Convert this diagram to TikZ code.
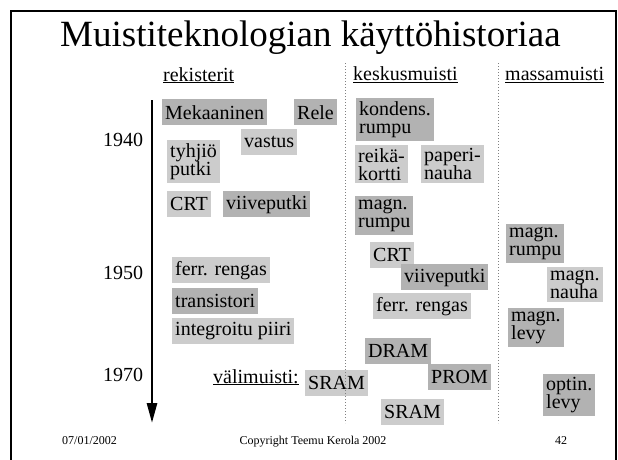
\documentclass[tikz,border=0pt]{standalone}
\usepackage{fontspec}
\setmainfont{Liberation Serif}
\usetikzlibrary{arrows.meta}

\begin{document}
\begin{tikzpicture}[x=1pt,y=-1pt,
  membox/.style={anchor=north west, inner xsep=3pt, inner ysep=3pt, minimum height=26pt, align=left, font=\fontsize{20}{18.2}\selectfont},
  darkbox/.style={membox, fill=black!30},
  lightbox/.style={membox, fill=black!20},
  plain/.style={inner sep=0pt, font=\fontsize{20}{24}\selectfont},
  footer/.style={inner sep=0pt, font=\fontsize{12}{14}\selectfont},
  divider/.style={dotted, gray, line width=1pt},
  timeline/.style={line width=2.7pt, -{Triangle[length=20pt,width=10pt]}}]
\useasboundingbox (0,0) rectangle (618,459);
\draw[line width=2.5pt] (11,470) -- (11,11) -- (616,11) -- (616,470);
\node[anchor=base west, inner sep=0pt, font=\fontsize{37}{40}\selectfont] (title) at (60,46.5) {Muistiteknologian käyttöhistoriaa};
% sarakkeet
\node[plain, anchor=base west] (rekisterit) at (163,81) {\underline{rekisterit}};
\node[plain, anchor=base west] (keskusmuisti) at (353,80.5) {\underline{keskusmuisti}};
\node[plain, anchor=base west] (massamuisti) at (505,80.5) {\underline{massamuisti}};
% aika-akseli
\coordinate (t0) at (152,100);
\coordinate (t1) at (152,423);
\draw[timeline] (t0) -- (t1);
\node[plain] (y1940) at (123,140) {1940};
\node[plain] (y1950) at (123,273) {1950};
\node[plain] (y1970) at (123,375) {1970};
% rekisterit
\node[darkbox] (mekaaninen) at (162,99) {Mekaaninen};
\node[darkbox] (rele) at (294,99) {Rele};
\node[lightbox] (vastus) at (241,129) {vastus};
\node[lightbox] (tyhjio) at (167,140) {tyhjiö\\putki};
\node[lightbox] (crtR) at (167,191) {CRT};
\node[darkbox] (viiveR) at (223,191) {viiveputki};
\node[lightbox] (ferrR) at (172,257) {ferr. rengas};
\node[darkbox] (transistori) at (172,288) {transistori};
\node[lightbox] (piiri) at (172,318) {integroitu piiri};
\node[plain, anchor=base west] (valimuisti) at (213,383) {\underline{välimuisti:}};
\node[lightbox] (sramV) at (305,370) {SRAM};
% keskusmuisti
\node[darkbox] (kondens) at (356,98) {kondens.\\rumpu};
\node[lightbox] (reika) at (355,145) {reikä-\\kortti};
\node[lightbox] (paperi) at (421,145) {paperi-\\nauha};
\node[darkbox] (rumpuK) at (355,196) {magn.\\rumpu};
\node[lightbox] (crtK) at (370,242) {CRT};
\node[darkbox] (viiveK) at (401,264) {viiveputki};
\node[lightbox] (ferrK) at (373,293) {ferr. rengas};
\node[darkbox] (dram) at (365,338) {DRAM};
\node[darkbox] (prom) at (428,364) {PROM};
\node[lightbox] (sramK) at (381,399) {SRAM};
% massamuisti
\node[darkbox] (rumpuM) at (506,224) {magn.\\rumpu};
\node[lightbox] (nauha) at (547,267) {magn.\\nauha};
\node[darkbox] (levy) at (508,308) {magn.\\levy};
\node[darkbox] (optin) at (543,374) {optin.\\levy};
% erottimet
\coordinate (k0) at (345,63);
\coordinate (k1) at (345,423);
\coordinate (m0) at (498,63);
\coordinate (m1) at (498,423);
\draw[divider] (k0) -- (k1);
\draw[divider] (m0) -- (m1);
% alatunniste
\node[footer, anchor=base west] (date) at (62,444) {07/01/2002};
\node[footer, anchor=base] (copyright) at (313,444) {Copyright Teemu Kerola 2002};
\node[footer, anchor=base] (page) at (561,444) {42};
\end{tikzpicture}
\end{document}
